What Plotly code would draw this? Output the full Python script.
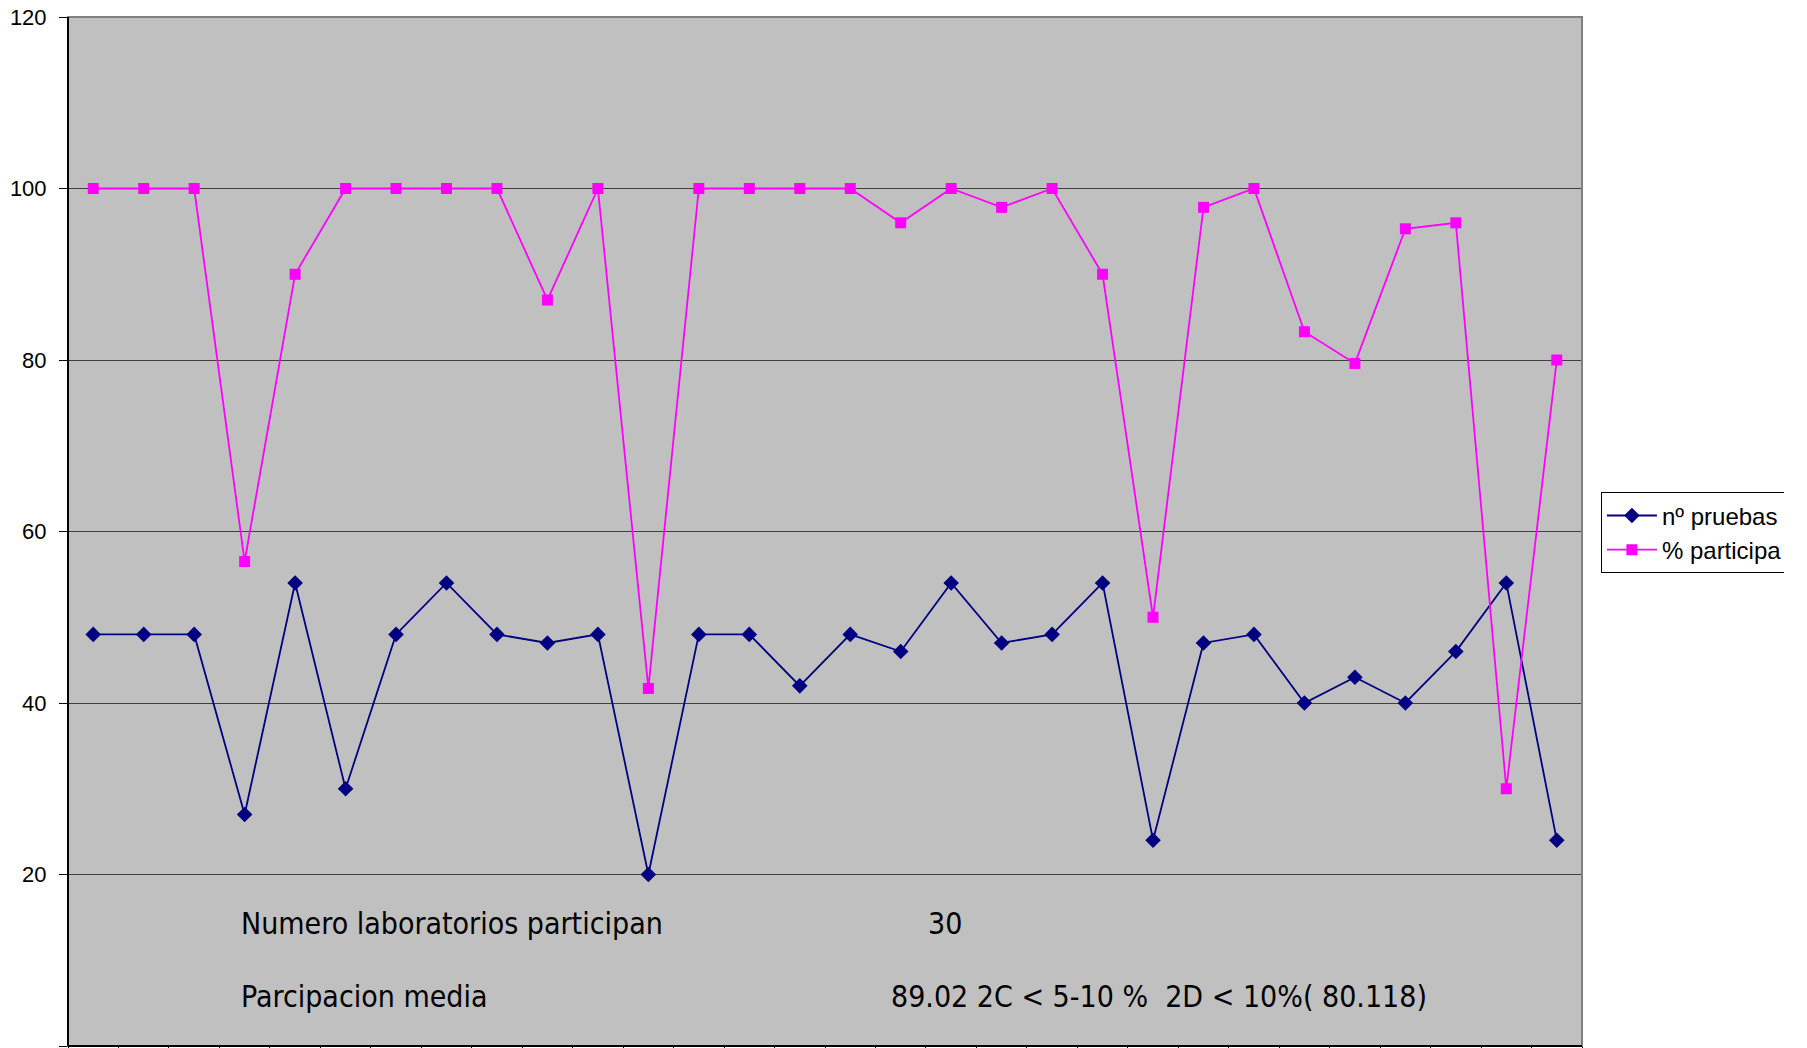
import plotly.graph_objects as go

# 30 puntos (sin etiquetas visibles en el eje x)
categorias = [str(i) for i in range(1, 31)]

n_pruebas = [48, 48, 48, 27, 54, 30, 48, 54, 48, 47,
             48, 20, 48, 48, 42, 48, 46, 54, 47, 48,
             54, 24, 47, 48, 40, 43, 40, 46, 54, 24]

pct_participa = [100, 100, 100, 56.5, 90, 100, 100, 100, 100, 87,
                 100, 41.7, 100, 100, 100, 100, 96, 100, 97.8, 100,
                 90, 50, 97.8, 100, 83.3, 79.6, 95.3, 96, 30, 80]

texto_izq = ["Numero laboratorios participan", "Parcipacion media"]
texto_der = ["30", "89.02 2C < 5-10 %  2D < 10%( 80.118)"]

narrow = "DejaVu Sans Condensed, Liberation Sans Narrow, sans-serif"

fig = go.Figure()
fig.add_trace(go.Scatter(x=categorias, y=n_pruebas, name="nº pruebas",
                         mode="lines+markers",
                         line=dict(color="#000080", width=1.8),
                         marker=dict(symbol="diamond", size=12, color="#000080")))
fig.add_trace(go.Scatter(x=categorias, y=pct_participa, name="% participa",
                         mode="lines+markers",
                         line=dict(color="#FF00FF", width=1.8),
                         marker=dict(symbol="square", size=11, color="#FF00FF")))

fig.update_xaxes(type="category", range=[-0.5, 29.5], showticklabels=False,
                 showgrid=False, ticks="outside", tickson="boundaries", ticklen=8,
                 tickcolor="black", showline=False, zeroline=False)
fig.update_yaxes(range=[0, 120], dtick=20, showgrid=True, gridcolor="#404040",
                 gridwidth=1, ticks="outside", ticklen=8, tickcolor="black",
                 ticklabelstandoff=8, showline=False, zeroline=False,
                 tickfont=dict(family="Liberation Sans, Arial", size=22, color="black"))

# plot border: gray top/right, black left/bottom
fig.add_shape(type="rect", xref="paper", yref="paper", x0=0, x1=1, y0=0, y1=1,
              line=dict(color="#808080", width=2), layer="above")
fig.add_shape(type="line", xref="paper", yref="paper", x0=0, x1=0, y0=0, y1=1,
              line=dict(color="black", width=2), layer="above")
fig.add_shape(type="line", xref="paper", yref="paper", x0=0, x1=1, y0=0, y1=0,
              line=dict(color="black", width=2), layer="above")

for txt, yv in zip(texto_izq, [14.3, 5.8]):
    fig.add_annotation(text=txt, xref="paper", yref="y", x=0.113, y=yv,
                       xanchor="left", yanchor="middle", showarrow=False,
                       font=dict(family=narrow, size=30, color="black"))
for txt, xv, yv in zip(texto_der, [0.567, 0.542], [14.3, 5.8]):
    fig.add_annotation(text=txt, xref="paper", yref="y", x=xv, y=yv,
                       xanchor="left", yanchor="middle", showarrow=False,
                       font=dict(family=narrow, size=30, color="black"))

fig.update_layout(
    width=1784, height=1048,
    margin=dict(l=68, r=202, t=17, b=2, autoexpand=False),
    plot_bgcolor="#C0C0C0", paper_bgcolor="white",
    legend=dict(x=1.0125, y=0.538, xanchor="left", yanchor="top",
                bgcolor="white", bordercolor="black", borderwidth=1,
                font=dict(family="Liberation Sans, Arial", size=24, color="black"),
                itemwidth=50, tracegroupgap=4),
)

fig.write_html("out.html", config={"displayModeBar": False},
               post_script="document.body.style.margin='0';")
